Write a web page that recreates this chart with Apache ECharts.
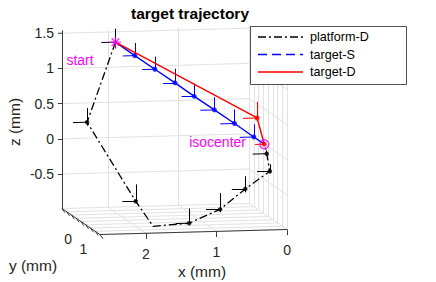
<!DOCTYPE html>
<html><head><meta charset="utf-8">
<script src="https://cdn.jsdelivr.net/npm/echarts@6/dist/echarts.min.js"></script>
<style>html,body{margin:0;padding:0;background:#fff}#c{width:436px;height:282px}</style>
</head><body><div id="c"></div>
<script>
// ---- axis limits and ticks (mm) ----
const xLim = [0, 2.65];
const yLim = [-1, 1.5];
const zLim = [-0.99, 1.54];
const xTicks = [0, 1, 2];
const xTickLabels = ['0', '1', '2'];
const yTicks = [-1, -0.6875, -0.375, -0.0625, 0.25, 0.5625, 0.875, 1.1875, 1.5];
const yLabelVals = [0, 1];
const yTickLabels = ['0', '1'];
const zTicks = [-0.5, 0, 0.5, 1, 1.5];
const zTickLabels = ['-0.5', '0', '0.5', '1', '1.5'];

// ---- platform-D trajectory (mm) ----
const platX = [2.00, 2.51, 1.95, 1.79, 1.28, 0.82, 0.42, 0.03, 0.03, 0.00];
const platY = [-0.50, 0.00, 0.60, 1.00, 1.00, 0.90, 0.70, 0.50, 0.30, 0.00];
const platZ = [1.43, 0.38, -0.67, -0.97, -0.94, -0.77, -0.52, -0.31, -0.09, 0.00];
const platMarked = [1, 2, 4, 5, 6, 7, 8];
const platXErr = [0.20, 0.20, 0.19, 0, 0.19, 0.20, 0.19, 0.18, 0.20, 0];
const platZUp  = [0.19, 0.20, 0.24, 0, 0.21, 0.23, 0.18, 0.10, 0.05, 0];
const platZDn  = [0.09, 0.05, 0.03, 0, 0.00, 0.04, 0.05, 0.03, 0.00, 0];

// ---- target-S trajectory (mm) ----
const tsX = [2.00, 1.74, 1.47, 1.20, 0.94, 0.67, 0.40, 0.14, 0.00];
const tsY = [-0.50, -0.44, -0.37, -0.30, -0.24, -0.17, -0.10, -0.04, 0.00];
const tsZ = [1.43, 1.24, 1.05, 0.86, 0.67, 0.48, 0.29, 0.10, 0.00];
const tsXErr = [0, 0.17, 0.18, 0.17, 0.18, 0.20, 0.20, 0.20, 0];
const tsZErr = [0, 0.18, 0.18, 0.20, 0.18, 0.18, 0.20, 0.18, 0];

// ---- target-D trajectory (mm) ----
const tdX = [2.00, 0.08, 0.00];
const tdY = [-0.50, -0.10, 0.00];
const tdZ = [1.43, 0.36, 0.00];
const tdXErr = [0, 0.20, 0.13];
const tdZErr = [0, 0.23, 0];

// ---- legend ----
const legendNames = ['platform-D', 'target-S', 'target-D'];

// view transform (orthographic, MATLAB-like view)
const O = [264.3, 144.2], EX = [-70.6, 1.9], EY = [15.2, 10.4], EZ = [0, -70.4];
function P(x, y, z) { return [O[0] + x * EX[0] + y * EY[0] + z * EZ[0], O[1] + x * EX[1] + y * EY[1] + z * EZ[1]]; }
function seg(a, b) { return { coords: [P(a[0], a[1], a[2]), P(b[0], b[1], b[2])] }; }

const [x0, x1] = xLim, [y0, y1] = yLim, [z0, z1] = zLim;
const gridSegs = [];
xTicks.forEach(x => { gridSegs.push(seg([x, y0, z0], [x, y0, z1])); gridSegs.push(seg([x, y0, z0], [x, y1, z0])); });
yTicks.forEach(y => { gridSegs.push(seg([x0, y, z0], [x0, y, z1])); gridSegs.push(seg([x0, y, z0], [x1, y, z0])); });
zTicks.forEach(z => { gridSegs.push(seg([x1, y0, z], [x0, y0, z])); gridSegs.push(seg([x0, y0, z], [x0, y1, z])); });

const axisSegs = [
  seg([x1, y0, z0], [x1, y0, z1]),
  seg([x1, y0, z0], [x1, y1, z0]),
  seg([x1, y1, z0], [x0, y1, z0])
];
zTicks.forEach(z => axisSegs.push(seg([x1, y0, z], [x1 + 0.06, y0, z])));
xTicks.forEach(x => axisSegs.push(seg([x, y1, z0], [x, y1, z0 - 0.08])));
yTicks.forEach(y => axisSegs.push(seg([x1, y, z0], [x1 - 0.04, y, z0 - 0.06])));

function pts(X, Y, Z, idx) { return (idx || X.map((_, i) => i)).map(i => P(X[i], Y[i], Z[i])); }
function errSegs(X, Y, Z, xe, zu, zd) {
  const s = [];
  X.forEach((_, i) => {
    if (xe[i]) s.push(seg([X[i], Y[i], Z[i]], [X[i] + xe[i], Y[i], Z[i]]));
    const u = zu[i] || 0, d = (zd && zd[i]) || 0;
    if (u || d) s.push(seg([X[i], Y[i], Z[i] - d], [X[i], Y[i], Z[i] + u]));
  });
  return s;
}

const font = "'Liberation Sans', Arial, Helvetica, sans-serif";
const axTxt = '#262626';
const graphics = [];
function txt(x, y, t, o) {
  graphics.push(Object.assign({ type: 'text', x: x, y: y, silent: true,
    style: Object.assign({ text: t, font: '14px ' + font, fill: axTxt, textAlign: 'center', textVerticalAlign: 'middle' }, o || {}) }));
}
zTicks.forEach((z, i) => { const p = P(x1, y0, z); txt(p[0] - 8, p[1], zTickLabels[i], { textAlign: 'right' }); });
xTicks.forEach((x, i) => { const p = P(x, y1, z0); txt(p[0], p[1] + 21, xTickLabels[i]); });
yLabelVals.forEach((y, i) => { const p = P(x1, y, z0); txt(p[0] - 9, p[1] + 20, yTickLabels[i]); });
txt(202, 271, 'x (mm)', { font: '15.5px ' + font });
txt(33, 265, 'y (mm)', { font: '15.5px ' + font });
graphics.push({ type: 'text', x: 14, y: 122, rotation: Math.PI / 2, silent: true,
  style: { text: 'z (mm)', font: '15.5px ' + font, fill: axTxt, textAlign: 'center', textVerticalAlign: 'middle' } });
txt(190, 13, 'target trajectory', { font: 'bold 15.5px ' + font, fill: '#000' });
txt(80, 60, 'start', { fill: '#ff00ff' });
txt(246, 142, 'isocenter', { fill: '#ff00ff', textAlign: 'right' });

// legend
graphics.push({ type: 'rect', shape: { x: 250.5, y: 26.5, width: 156, height: 58 }, silent: true,
  style: { fill: '#fff', stroke: '#262626', lineWidth: 0.8 }, z: 100 });
const legStyles = [
  { stroke: '#000', lineDash: [8, 3, 2, 3] },
  { stroke: '#0000ff', lineDash: [9, 5] },
  { stroke: '#ff0000', lineDash: null }
];
legendNames.forEach((n, i) => {
  const yy = 37 + i * 17.5;
  graphics.push({ type: 'line', shape: { x1: 258, y1: yy, x2: 303, y2: yy }, silent: true, z: 101,
    style: Object.assign({ lineWidth: 1.3 }, legStyles[i]) });
  graphics.push({ type: 'text', x: 310, y: yy, silent: true, z: 101,
    style: { text: n, font: '12.6px ' + font, fill: '#000', textAlign: 'left', textVerticalAlign: 'middle' } });
});

const chart = echarts.init(document.getElementById('c'), null, { renderer: 'svg', width: 436, height: 282 });
chart.setOption({
  animation: false,
  grid: { left: 0, right: 0, top: 0, bottom: 0 },
  xAxis: { type: 'value', min: 0, max: 436, show: false },
  yAxis: { type: 'value', min: 0, max: 282, inverse: true, show: false },
  series: [
    { type: 'lines', coordinateSystem: 'cartesian2d', data: gridSegs, silent: true, z: 1,
      lineStyle: { color: '#e2e2e2', width: 1, opacity: 1 } },
    { type: 'lines', coordinateSystem: 'cartesian2d', data: axisSegs, silent: true, z: 2,
      lineStyle: { color: '#262626', width: 0.9, opacity: 1 } },
    { type: 'line', data: pts(platX, platY, platZ), symbol: 'none', z: 3,
      lineStyle: { color: '#000', width: 1.3, type: [8, 3, 2, 3] } },
    { type: 'lines', coordinateSystem: 'cartesian2d', data: errSegs(platX, platY, platZ, platXErr, platZUp, platZDn), silent: true, z: 3,
      lineStyle: { color: '#000', width: 1, opacity: 1 } },
    { type: 'scatter', data: pts(platX, platY, platZ, platMarked), symbol: 'circle', symbolSize: 4.5, z: 4,
      itemStyle: { color: '#000' } },
    { type: 'line', data: pts(tsX, tsY, tsZ), symbol: 'none', z: 5,
      lineStyle: { color: '#0000ff', width: 1.4 } },
    { type: 'lines', coordinateSystem: 'cartesian2d', data: errSegs(tsX, tsY, tsZ, tsXErr, tsZErr), silent: true, z: 5,
      lineStyle: { color: '#0000ff', width: 1, opacity: 1 } },
    { type: 'scatter', data: pts(tsX, tsY, tsZ).slice(1, tsX.length - 1), symbol: 'circle', symbolSize: 5, z: 6,
      itemStyle: { color: '#0000ff' } },
    { type: 'line', data: pts(tdX, tdY, tdZ), symbol: 'none', z: 7,
      lineStyle: { color: '#ff0000', width: 1.4 } },
    { type: 'lines', coordinateSystem: 'cartesian2d', data: errSegs(tdX, tdY, tdZ, tdXErr, tdZErr), silent: true, z: 7,
      lineStyle: { color: '#ff0000', width: 1, opacity: 1 } },
    { type: 'scatter', data: pts(tdX, tdY, tdZ).slice(1), symbol: 'circle', symbolSize: 5, z: 8,
      itemStyle: { color: '#ff0000' } },
    { type: 'scatter', data: [P(tsX[0], tsY[0], tsZ[0])], z: 9,
      symbol: 'path://M5,0L5,10M0,5L10,5M1.5,1.5L8.5,8.5M1.5,8.5L8.5,1.5', symbolSize: 11,
      itemStyle: { color: 'rgba(0,0,0,0)', borderColor: '#ff00ff', borderWidth: 1.3 } },
    { type: 'scatter', data: [P(0, 0, 0)], symbol: 'circle', symbolSize: 9, z: 9,
      itemStyle: { color: 'rgba(0,0,0,0)', borderColor: '#ff00ff', borderWidth: 1.5 } }
  ],
  graphic: graphics
});
</script></body></html>
